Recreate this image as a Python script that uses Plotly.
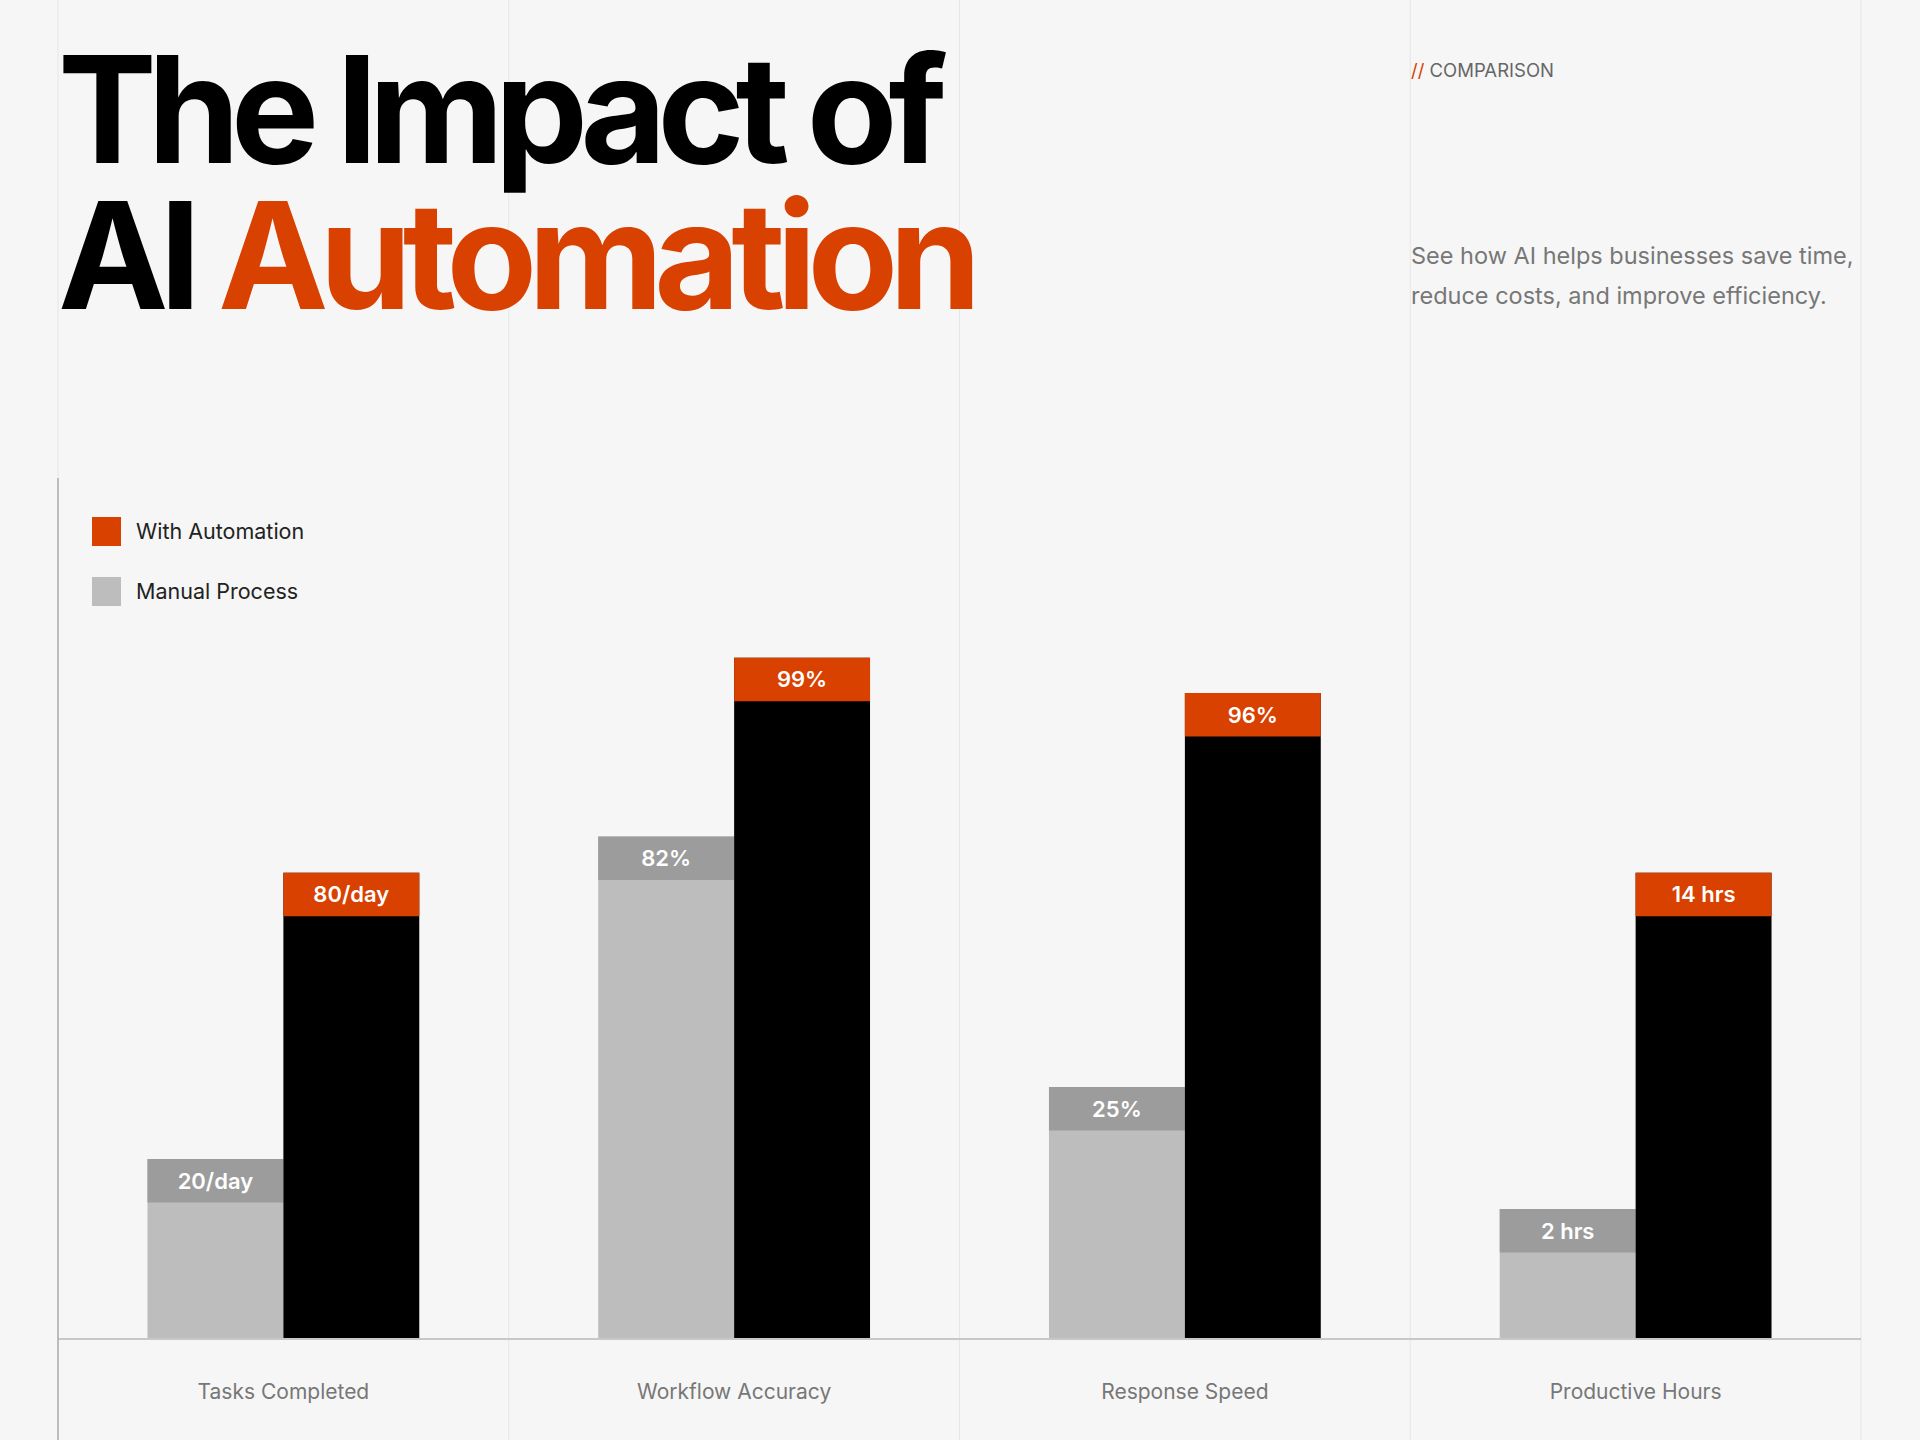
import plotly.graph_objects as go

# ---------------- data ----------------
categories = ["Tasks Completed", "Workflow Accuracy", "Response Speed", "Productive Hours"]
manual_labels = ["20/day", "82%", "25%", "2 hrs"]
auto_labels = ["80/day", "99%", "96%", "14 hrs"]
# visual bar heights (relative scale 0-100 of the chart area)
manual_height = [20.8, 58.3, 29.2, 15.0]
auto_height = [54.1, 79.1, 75.0, 54.1]
legend_names = ["With Automation", "Manual Process"]

# ---------------- style ----------------
W, H = 1920, 1440
ML, MR, MT, MB = 58, 59, 478, 102
PLOT_H = H - MT - MB
YMAX = 100
CAP_PX = 43.5
cap = CAP_PX * YMAX / PLOT_H

ORANGE = "#D94100"
BLACK = "#000000"
GREY_BODY = "#BDBDBD"
GREY_CAP = "#9C9C9C"
BG = "#F6F6F6"
FONT = "Inter"


def py(pix):
    """pixel row -> paper y"""
    return (H - MB - pix) / PLOT_H


def px(pix):
    return (pix - ML) / (W - ML - MR)


fig = go.Figure()

fig.add_trace(go.Bar(
    x=categories, y=manual_height, offsetgroup="manual",
    marker=dict(color=GREY_BODY, line=dict(width=0)),
    showlegend=False, hoverinfo="skip"))
fig.add_trace(go.Bar(
    x=categories, y=[cap] * len(categories),
    base=[h - cap for h in manual_height], offsetgroup="manual",
    marker=dict(color=GREY_CAP, line=dict(width=0)),
    text=manual_labels, textposition="inside", insidetextanchor="middle",
    textangle=0, constraintext="none",
    textfont=dict(family=FONT, size=22, color="#FFFFFF", weight=600),
    showlegend=False, hoverinfo="skip"))
fig.add_trace(go.Bar(
    x=categories, y=auto_height, offsetgroup="auto",
    marker=dict(color=BLACK, line=dict(width=0)),
    showlegend=False, hoverinfo="skip"))
fig.add_trace(go.Bar(
    x=categories, y=[cap] * len(categories),
    base=[h - cap for h in auto_height], offsetgroup="auto",
    marker=dict(color=ORANGE, line=dict(width=0)),
    text=auto_labels, textposition="inside", insidetextanchor="middle",
    textangle=0, constraintext="none",
    textfont=dict(family=FONT, size=22, color="#FFFFFF", weight=600),
    showlegend=False, hoverinfo="skip"))

shapes = []
# column divider lines across the full page
n = len(categories)
for i in range(n + 1):
    shapes.append(dict(type="line", xref="paper", yref="paper",
                       x0=i / n, x1=i / n, y0=py(H), y1=py(0),
                       line=dict(color="#E6E6E6", width=1), layer="below"))
# darker left axis line
shapes.append(dict(type="line", xref="paper", yref="paper",
                   x0=0, x1=0, y0=py(H), y1=1,
                   line=dict(color="#ABABAB", width=1.5)))
# legend swatches
shapes.append(dict(type="rect", xref="paper", yref="paper",
                   x0=px(92), x1=px(121), y0=py(546), y1=py(517),
                   fillcolor=ORANGE, line=dict(width=0)))
shapes.append(dict(type="rect", xref="paper", yref="paper",
                   x0=px(92), x1=px(121), y0=py(606), y1=py(577),
                   fillcolor=GREY_BODY, line=dict(width=0)))

TITLE_SPACING = "letter-spacing:-9px"
annotations = [
    dict(text="<span style='" + TITLE_SPACING + "'>The Impact of</span>",
         xref="paper", yref="paper", x=px(56), y=py(109),
         xanchor="left", yanchor="middle", showarrow=False,
         font=dict(family=FONT, size=148, color="#000000", weight=700)),
    dict(text="<span style='" + TITLE_SPACING + "'>AI <span style='color:" + ORANGE + "'>Automation</span></span>",
         xref="paper", yref="paper", x=px(56), y=py(256),
         xanchor="left", yanchor="middle", showarrow=False,
         font=dict(family=FONT, size=148, color="#000000", weight=700)),
    dict(text="<span style='color:" + ORANGE + "'>//</span> COMPARISON",
         xref="paper", yref="paper", x=px(1409), y=py(70),
         xanchor="left", yanchor="middle", showarrow=False,
         font=dict(family=FONT, size=18.5, color="#666666")),
    dict(text="See how AI helps businesses save time,",
         xref="paper", yref="paper", x=px(1409), y=py(256),
         xanchor="left", yanchor="middle", showarrow=False,
         font=dict(family=FONT, size=23.5, color="#777777")),
    dict(text="reduce costs, and improve efficiency.",
         xref="paper", yref="paper", x=px(1409), y=py(295),
         xanchor="left", yanchor="middle", showarrow=False,
         font=dict(family=FONT, size=23.5, color="#777777")),
    dict(text=legend_names[0],
         xref="paper", yref="paper", x=px(134), y=py(531),
         xanchor="left", yanchor="middle", showarrow=False,
         font=dict(family=FONT, size=21.5, color="#222222")),
    dict(text=legend_names[1],
         xref="paper", yref="paper", x=px(134), y=py(591),
         xanchor="left", yanchor="middle", showarrow=False,
         font=dict(family=FONT, size=21.5, color="#222222")),
]

fig.update_layout(
    width=W, height=H,
    margin=dict(l=ML, r=MR, t=MT, b=MB, pad=0),
    paper_bgcolor=BG, plot_bgcolor=BG,
    barmode="group", bargap=0.397, bargroupgap=0,
    showlegend=False,
    shapes=shapes, annotations=annotations,
    xaxis=dict(range=[-0.5, n - 0.5], showgrid=False, zeroline=False,
               showline=True, linecolor="#C8C8C8", linewidth=2,
               ticks="", ticklabelstandoff=34, fixedrange=True,
               tickfont=dict(family=FONT, size=21, color="#777777")),
    yaxis=dict(range=[0, YMAX], visible=False, showgrid=False,
               zeroline=False, fixedrange=True),
    font=dict(family=FONT),
)

fig.write_html("out.html", config={"displayModeBar": False})
